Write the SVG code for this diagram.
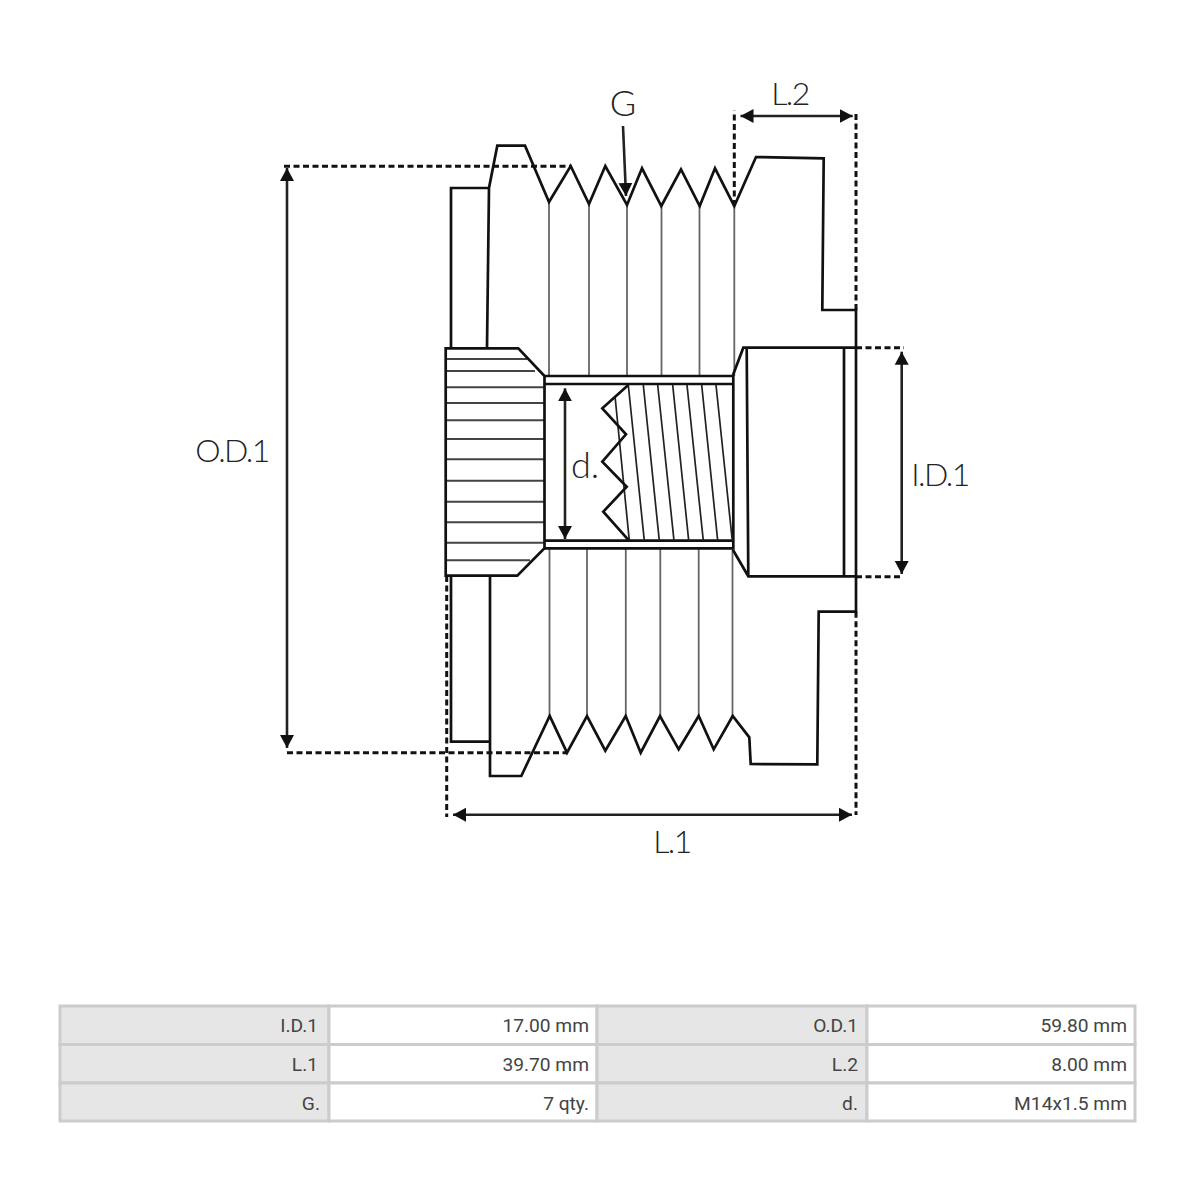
<svg xmlns="http://www.w3.org/2000/svg" width="1200" height="1200" viewBox="0 0 1200 1200">
<style>
.o{fill:none;stroke:#111;stroke-width:2.7;stroke-linejoin:miter}
.g{fill:none;stroke:#666;stroke-width:1.8}
.t{fill:none;stroke:#222;stroke-width:1.7}
.h{fill:none;stroke:#444;stroke-width:1.9}
.d{fill:none;stroke:#111;stroke-width:3;stroke-dasharray:6 3.500}
.a{fill:none;stroke:#222;stroke-width:2.600;marker-start:url(#ah);marker-end:url(#ah)}
.l{font-family:"Lato","Liberation Sans",sans-serif;font-weight:300;font-size:32px;letter-spacing:-1.6px;fill:#222;text-anchor:middle}
.b{font-size:36px;letter-spacing:0}
.c{font-family:Roboto,"Liberation Sans",sans-serif;font-size:19.2px;fill:#444;text-anchor:end}
.k{fill:#e6e6e6;stroke:#ccc;stroke-width:3}
.v{fill:#fff;stroke:#ccc;stroke-width:3}
</style>
<defs>
<marker id="ah" markerUnits="userSpaceOnUse" markerWidth="15" markerHeight="15" refX="13" refY="7.500" orient="auto-start-reverse"><path d="M0 0.500L13 7.500L0 14.500Z" fill="#111"/></marker>
</defs>
<rect width="1200" height="1200" fill="#fff"/>
<g id="pulley">
<path class="g" d="M549 201V376M589 203V376M627 205V376M661.500 206V376M699.500 206V376M734.300 206V376"/>
<path class="g" d="M549.500 548V716M587 548V716M625.800 548V716M660.300 548V716M698.700 548V716M732.500 548V716"/>
<path class="o" d="M451 347V188H489M487 347L489 188L497.300 145.700H525L549 202L570.700 166L589 204L605.300 166L627 205L642 168.300L661.300 206L681 169.300L699.700 206L715 168.300L734.300 206L756 157L823.700 158.300L822.300 310H856V611.700H818.700L817.300 764.300L750.700 764L749.300 737.300L732.700 716L713.700 749.300L698.700 716L678.700 749.300L660 716L640.700 752.700L625.700 716L605.300 750.700L587 716L567 752.700L549.700 716L521.300 776H490V576"/>
<path class="o" d="M451 576V741.700H490"/>
</g>
<g id="hub">
<path class="h" d="M446 359H527M446 371H535M446 387.300H544M446 403H544M446 420.300H544M446 439H544M446 459.300H544M446 480.700H544M446 501.700H544M446 522.300H544M446 542.700H544M446 560.300H530"/>
<path class="o" d="M445.700 348.300H518.300L544.500 376V548.300L517.300 575.700H445.700Z"/>
</g>
<g id="bore">
<path class="o" d="M544.500 376H733.300V548.300H544.500"/>
<path class="o" d="M544.500 384H733.300M544.500 540.700H733.300"/>
<path class="t" d="M615 396L629.300 540.700M628.300 385L644.300 540.700M643.300 385L659.300 540.700M657.700 385L674 540.700M672.700 385L688.700 540.700M687 385L703.300 540.700M701.700 385L717.700 540.700M716 385L732.300 540.700"/>
<path class="o" d="M628.300 385L602.300 408.300L626 434.300L602.300 461.700L626.700 486.700L603.300 511.700L629 540.700"/>
</g>
<g id="cap">
<path class="o" d="M733 375L743.300 347.700H856M733 550L748.300 576.300H856M746.700 347.700L748.300 576.300M844 347.700V576.300"/>
</g>
<g id="connectors">
<path class="d" d="M284 166.300H570M287 752.700H567M446.700 576V817M856 611.700V815M856 310V110.700M734.300 206V110.700M856 347.700H904M856 576.700H903"/>
<line class="a" x1="287" y1="168" x2="287" y2="748"/>
<line class="a" x1="453" y1="814.700" x2="852" y2="814.700"/>
<line class="a" x1="740.500" y1="116" x2="852.700" y2="116"/>
<line class="a" x1="901.700" y1="351.700" x2="901.700" y2="574"/>
<line class="a" x1="565" y1="388.300" x2="565" y2="539"/>
<line class="a" x1="623" y1="126" x2="626" y2="196" style="marker-start:none"/>
</g>
<g id="labels">
<text class="l b" x="623" y="116">G</text>
<text class="l" x="790" y="105">L.2</text>
<text class="l" x="232" y="462">O.D.1</text>
<text class="l" x="940" y="486">I.D.1</text>
<text class="l b" x="585" y="478">d.</text>
<text class="l" x="672" y="853">L.1</text>
</g>
<g id="table">
<rect class="k" x="60" y="1006" width="269" height="38.500"/><rect class="v" x="329" y="1006" width="268" height="38.500"/><rect class="k" x="597" y="1006" width="270" height="38.500"/><rect class="v" x="867" y="1006" width="268" height="38.500"/>
<rect class="k" x="60" y="1044.500" width="269" height="38.500"/><rect class="v" x="329" y="1044.500" width="268" height="38.500"/><rect class="k" x="597" y="1044.500" width="270" height="38.500"/><rect class="v" x="867" y="1044.500" width="268" height="38.500"/>
<rect class="k" x="60" y="1083" width="269" height="38"/><rect class="v" x="329" y="1083" width="268" height="38"/><rect class="k" x="597" y="1083" width="270" height="38"/><rect class="v" x="867" y="1083" width="268" height="38"/>
<text class="c" x="318" y="1032">I.D.1</text><text class="c" x="589" y="1032">17.00 mm</text><text class="c" x="858" y="1032">O.D.1</text><text class="c" x="1127" y="1032">59.80 mm</text>
<text class="c" x="318" y="1071">L.1</text><text class="c" x="589" y="1071">39.70 mm</text><text class="c" x="858" y="1071">L.2</text><text class="c" x="1127" y="1071">8.00 mm</text>
<text class="c" x="320" y="1110">G.</text><text class="c" x="589" y="1110">7 qty.</text><text class="c" x="858" y="1110">d.</text><text class="c" x="1127" y="1110">M14x1.5 mm</text>
</g>
</svg>
